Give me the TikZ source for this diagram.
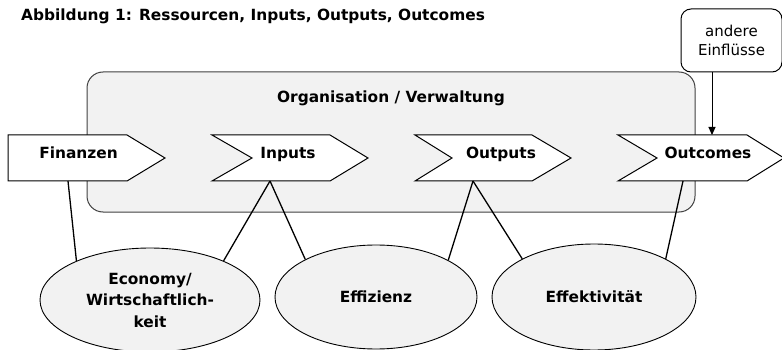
\documentclass[tikz,border=0pt]{standalone}
\usepackage{fontspec}
\setmainfont{DejaVu Sans}
\usetikzlibrary{shapes.geometric,arrows.meta}
\definecolor{boxgray}{HTML}{F2F2F2}
\definecolor{edgegray}{HTML}{404040}
\tikzset{
  lbl/.style={font=\fontsize{15.4}{21.5}\selectfont\bfseries, inner sep=0pt, anchor=base},
  chev/.style={draw=black, fill=white, line width=1pt, line join=miter},
  oval/.style={ellipse, draw=black, fill=boxgray, line width=0.9pt, inner sep=0pt,
    font=\fontsize{15.4}{21.5}\selectfont\bfseries, align=center},
  conn/.style={draw=black, line width=1.3pt},
  arr/.style={draw=black, line width=1pt, -{Triangle[length=8pt,width=7pt]}}
}
\begin{document}
\begin{tikzpicture}[x=1pt,y=-1pt]
\useasboundingbox (0,0) rectangle (782,350);
\clip (0,0) rectangle (782,350);
% title
\node[lbl, anchor=base west] (title) at (21,20.5) {Abbildung 1: Ressourcen, Inputs, Outputs, Outcomes};
% organisation box
\draw[fill=boxgray, draw=edgegray, line width=1pt, rounded corners=16pt] (87,72) rectangle (695,212);
\node[lbl] (org) at (391,103) {Organisation / Verwaltung};
% chevrons
\draw[chev] (8,135) -- (127,135) -- (165,158) -- (127,181) -- (8,181) -- cycle;
\node[lbl] (fin) at (78.5,159) {Finanzen};
\draw[chev] (212,135) -- (330,135) -- (368,158) -- (330,181) -- (212,181) -- (252,158) -- cycle;
\node[lbl] (inp) at (288,159) {Inputs};
\draw[chev] (415,135) -- (532,135) -- (571,158) -- (532,181) -- (415,181) -- (452,158) -- cycle;
\node[lbl] (outp) at (501,159) {Outputs};
\draw[chev] (618,135) -- (747,135) -- (784,158) -- (747,181) -- (618,181) -- (657,158) -- cycle;
\node[lbl] (outc) at (708,159) {Outcomes};
% connection points on chevrons
\coordinate (finb) at (68,181);
\coordinate (inb) at (270,181);
\coordinate (outb) at (473,181);
\coordinate (ocb) at (683,181);
\coordinate (oct) at (712,135);
% other influences
\node[draw=black, fill=white, line width=1pt, rounded corners=10pt, minimum width=101pt,
  minimum height=63pt, inner sep=0pt, align=center,
  font=\fontsize{15}{19}\selectfont] (other) at (731.5,40.5) {andere\\Einflüsse};
\draw[arr] (other.south -| oct) -- (oct);
% ellipses
\node[oval, minimum width=220pt, minimum height=104pt] (eco) at (150,300) {Economy/\\Wirtschaftlich-\\keit};
\node[oval, minimum width=202pt, minimum height=104pt] (eff) at (376,297) {Effizienz};
\node[oval, minimum width=204pt, minimum height=106pt] (efk) at (594,297) {Effektivität};
% connectors
\draw[conn] (finb) -- (eco.152);
\draw[conn] (inb) -- (eco.28);
\draw[conn] (inb) -- (eff.152);
\draw[conn] (outb) -- (eff.27);
\draw[conn] (outb) -- (efk.152);
\draw[conn] (ocb) -- (efk.28);
\end{tikzpicture}
\end{document}
